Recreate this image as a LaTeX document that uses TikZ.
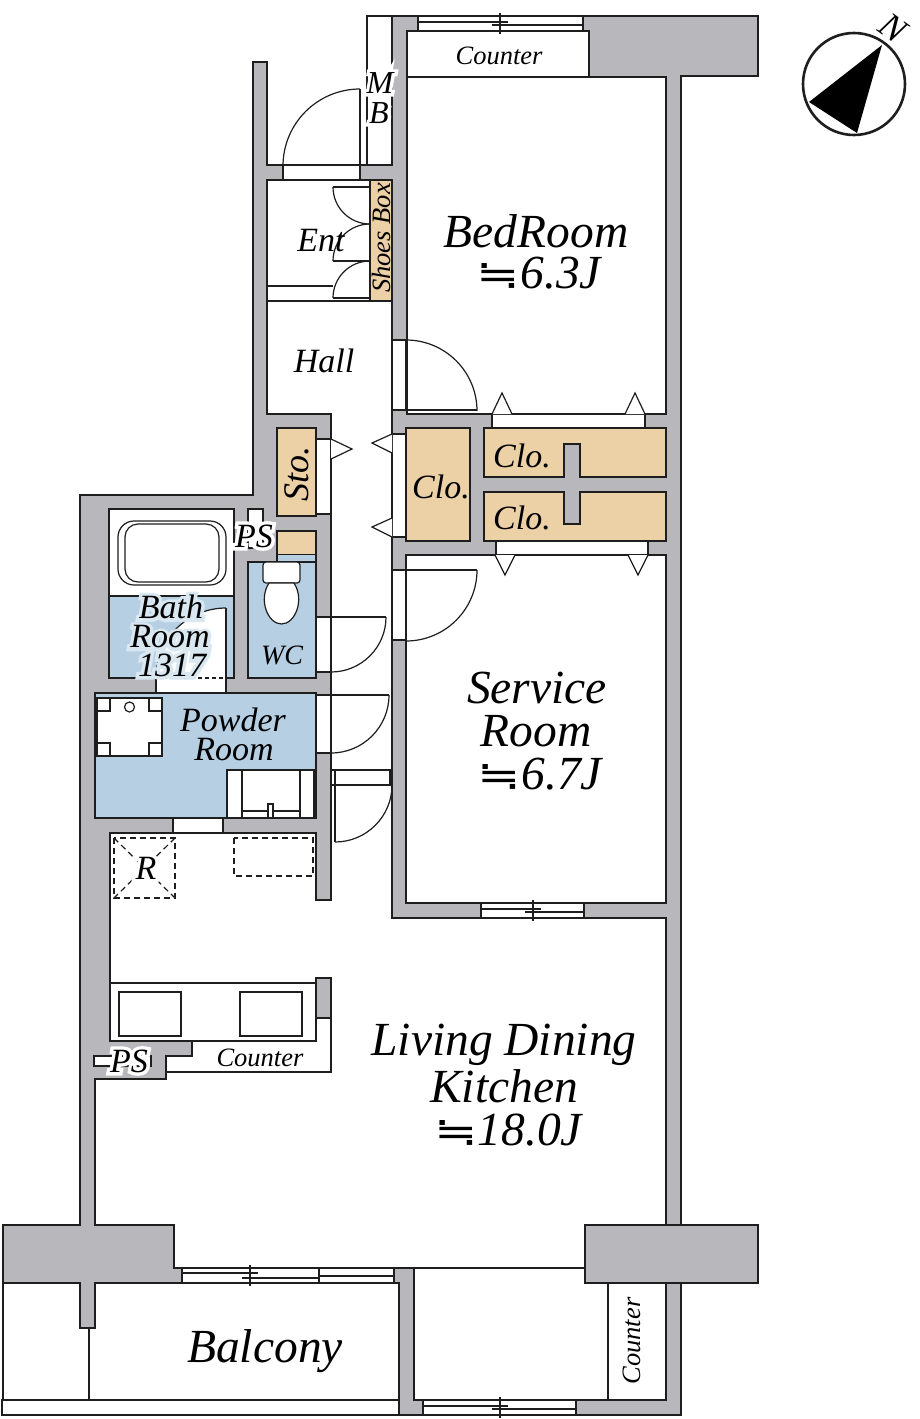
\documentclass[tikz,border=0pt]{standalone}
\usepackage{fontspec}
\setmainfont{Liberation Serif}
\newfontfamily\symfont[FakeStretch=1.3]{DejaVu Sans}
\newcommand{\approxsign}{{\symfont\fontsize{40}{40}\selectfont\char"2252}}
\newcommand{\halotxt}[2]{\rlap{\color{#1}\addfontfeature{FakeBold=20}#2}#2}
\definecolor{wallgray}{HTML}{B8B7BB}
\definecolor{tanfill}{HTML}{ECD0A6}
\definecolor{bluefill}{HTML}{B6CFE3}
\definecolor{haloblue}{HTML}{D9E7F1}
\definecolor{inkline}{HTML}{1E1E1E}
\tikzset{
  wall/.style={draw=inkline,fill=wallgray},
  room/.style={draw=inkline,fill=white},
  tanroom/.style={draw=inkline,fill=tanfill},
  blueroom/.style={draw=inkline,fill=bluefill},
  bigtxt/.style={font=\itshape\fontsize{47.5}{47.5}\selectfont,inner sep=0pt},
  midtxt/.style={font=\itshape\fontsize{34}{34}\selectfont,inner sep=0pt},
  smalltxt/.style={font=\itshape\fontsize{26.5}{26.5}\selectfont,inner sep=0pt},
}
\begin{document}
\begin{tikzpicture}[x=1pt,y=-1pt,line width=1.2pt,draw=inkline]
\useasboundingbox (0,0) rectangle (920,1419);

% walls
\draw[wall](392,16)--(758,16)--(758,76)--(681,76)--(681,1225)--(758,1225)--(758,1283)--(681,1283)
  --(681,1415)--(399,1415)--(399,1283)--(95,1283)--(95,1328)--(80,1328)--(80,1283)--(3,1283)
  --(3,1225)--(80,1225)--(80,495)--(253,495)--(253,62)--(267,62)--(267,165)--(392,165)--cycle;

% rooms
\draw[room](407,31)--(589,31)--(589,77)--(666,77)--(666,414)--(407,414)--cycle;
\draw(407,77)--(589,77);
\draw[room](406,555) rectangle (666,903);
\draw[room](267,180)--(392,180)--(392,918)--(666,918)--(666,1225)--(585,1225)--(585,1268)--(174,1268)
  --(174,1225)--(95,1225)--(95,1079)--(166,1079)--(166,1056)--(192,1056)--(192,1041)--(110,1041)
  --(110,833)--(316,833)--(316,900)--(331,900)--(331,414)--(267,414)--cycle;
\draw[room](414,1268)--(585,1268)--(585,1283)--(666,1283)--(666,1400)--(414,1400)--cycle;
\draw(608,1283)--(608,1400);
\draw[wall](585,1225) rectangle (758,1283);
\draw(367,165)--(367,16)--(392,16);

% balcony
\draw(3,1283)--(3,1400);
\draw(89,1328)--(89,1400);
\draw[room](2,1400) rectangle (399,1415);

% storage
\draw[tanroom](370,180) rectangle (392,301);
\draw(267,286)--(333,286);
\draw(267,301)--(370,301);
\draw[tanroom](277,428) rectangle (316,516);
\draw[tanroom](406,428) rectangle (470,541);
\draw[tanroom](484,428)--(666,428)--(666,477)--(580,477)--(580,444)--(564,444)--(564,477)--(484,477)--cycle;
\draw[tanroom](484,492)--(564,492)--(564,524)--(580,524)--(580,492)--(666,492)--(666,541)--(484,541)--cycle;

% bath, wc, powder
\draw[room](109,509) rectangle (234,596);
\draw[blueroom](109,596) rectangle (234,678);
\draw[room,rounded corners=16pt](118,521) rectangle (226,585);
\draw[rounded corners=13pt](125,524) rectangle (219,582);
\draw[room](248,509) rectangle (263,548);
\draw[tanroom](277,531) rectangle (316,555);
\fill[bluefill](277,555) rectangle (316,563);
\draw(277,555)--(277,562);
\draw(316,555)--(316,562);
\draw[blueroom](248,562) rectangle (316,678);
\draw[room,rounded corners=3pt](263,562) rectangle (300,583);
\draw[room](269,583)..controls (258,600) and (268,624) .. (281.5,624)..controls (295,624) and (305,600) .. (294,583)--cycle;
\fill[white](156,678)--(226,678)--(226,608) arc[start angle=90,end angle=180,radius=70pt]--cycle;
\draw(226,608) arc[start angle=90,end angle=180,radius=70pt];
\fill[white](156,677) rectangle (226,692);
\draw[dashed,dash pattern=on 4pt off 3pt](156,678)--(226,678);
\draw(226,608)--(226,693)--(156,693)--(156,678);
\draw[blueroom](95,693) rectangle (316,818);
\draw[room](97,698) rectangle (162,756);
\foreach \cx/\cy in {97/698, 149/698, 97/743, 149/743}
{
    \draw(\cx,\cy) rectangle (\cx+13,\cy+13);
}
\draw[room](129.5,707) circle(5pt);
\draw[room](227,770) rectangle (316,818);
\draw(242,770)--(242,818);
\draw(300,770)--(300,818);
\draw(314,770)--(314,818);
\draw(242,811)--(300,811);
\draw[room](268,804) rectangle (273,818);
\draw[room](173,818) rectangle (223,833);

% kitchen
\draw[dashed,dash pattern=on 6pt off 4pt](114,838) rectangle (175,898);
\draw[dashed,dash pattern=on 6pt off 4pt](114,838)--(175,898);
\draw[dashed,dash pattern=on 6pt off 4pt](175,838)--(114,898);
\draw[dashed,dash pattern=on 6pt off 4pt](234,838) rectangle (313,876);
\draw(110,983) rectangle (316,1041);
\draw(119,992) rectangle (181,1036);
\draw(240,992) rectangle (302,1036);
\draw[wall](316,978) rectangle (331,1018);
\draw(331,1018)--(331,1072)--(166,1072);
\draw[room](94,1056) rectangle (151,1066);

% openings and doors
\foreach \xa/\ya/\xb/\yb in {283/165/360/180, 392/340/406/410, 392/434/406/537, 392/570/406/640,
  316/439/331/514, 316/617/331/672, 316/695/331/753, 492/414/645/428, 496/541/648/555}
{
    \draw[room](\xa,\ya) rectangle (\xb,\yb);
}
\draw(360,89)--(360,165);
\draw(360,89) arc[start angle=90,end angle=180,radius=77pt];
\draw(392,410)--(477,410);
\draw(406,340) arc[start angle=90,end angle=0,radius=71pt];
\draw(392,570)--(477,570);
\draw(477,570) arc[start angle=0,end angle=-90,radius=71pt];
\draw(316,617)--(386,617);
\draw(386,617) arc[start angle=0,end angle=-90,radius=55pt];
\draw(316,695)--(389,695);
\draw(389,695) arc[start angle=0,end angle=-90,radius=58pt];
\draw(331,770)--(392,770);
\draw(331,785)--(392,785);
\draw(335,770)--(335,842);
\draw(390,770)--(390,785);
\draw(392,785) arc[start angle=0,end angle=-90,radius=57pt];
\draw(333,187)--(370,187);
\draw(333,187) arc[start angle=180,end angle=270,radius=37pt];
\draw(333,261)--(370,261);
\draw(370,224) arc[start angle=90,end angle=180,radius=37pt];
\draw(333,298)--(370,298);
\draw(333,298) arc[start angle=180,end angle=90,radius=37pt];

% closet markers
\foreach \x/\y in {331/439}
{
    \draw[room](\x,\y)--(\x+21,\y+10)--(\x,\y+20);
}
\foreach \x/\y in {392/434, 392/518}
{
    \draw[room](\x,\y)--(\x-20,\y+9)--(\x,\y+19);
}
\foreach \x in {492, 625}
{
    \draw[room](\x,414)--(\x+10,393)--(\x+20,414);
}
\foreach \x in {495, 628}
{
    \draw[room](\x,555)--(\x+10,575)--(\x+20,555);
}

% windows
\foreach \xa/\xb/\xm/\y in {418/583/500/16, 481/584/533/903, 423/576/500/1400}
{
    \draw[room](\xa,\y) rectangle (\xb,\y+15);
    \draw(\xa,\y+6)--(\xm+8,\y+6);
    \draw(\xm-8,\y+9)--(\xb,\y+9);
    \draw(\xm,\y-3)--(\xm,\y+18);
}
\draw[room](182,1268) rectangle (394,1283);
\draw(182,1273)--(258,1273);
\draw(242,1278)--(319,1278);
\draw(319,1268)--(319,1283);
\draw(319,1276)--(394,1276);
\draw(250,1265)--(250,1286);

% compass
\draw[line width=2.6pt](854,84) circle(51pt);
\fill[black](882,45)--(809,102)--(857,133)--cycle;
\node[rotate=-36,font=\itshape\fontsize{36}{36}\selectfont,inner sep=0pt](north) at (893,28) {N};

% labels
\node[smalltxt](counterbed) at (499,56) {Counter};
\node[midtxt,font=\itshape\fontsize{32}{32}\selectfont](mbm) at (380,83) {\halotxt{white}{M}};
\node[midtxt,font=\itshape\fontsize{32}{32}\selectfont](mbb) at (379,113) {\halotxt{white}{B}};
\node[midtxt](ent) at (321,241) {Ent};
\node[smalltxt,rotate=90](shoes) at (381,238) {Shoes Box};
\node[bigtxt](bed) at (536,231) {BedRoom};
\node[bigtxt](bedsize) at (539,273) {\approxsign6.3J};
\node[midtxt](hall) at (324,361) {Hall};
\node[midtxt,font=\itshape\fontsize{36}{36}\selectfont,rotate=90](sto) at (297,474) {Sto.};
\node[midtxt](cloa) at (441,487) {Clo.};
\node[midtxt](clob) at (522,456) {Clo.};
\node[midtxt](cloc) at (522,518) {Clo.};
\node[midtxt](psa) at (254,536) {\halotxt{white}{PS}};
\node[midtxt](batha) at (171,607) {\halotxt{haloblue}{Bath}};
\node[midtxt](bathb) at (170,637) {\halotxt{haloblue}{Room}};
\node[midtxt](bathc) at (172,665) {\halotxt{haloblue}{1317}};
\node[smalltxt,font=\itshape\fontsize{28}{28}\selectfont](wc) at (282,655) {WC};
\node[midtxt](powa) at (233,720) {Powder};
\node[midtxt](powb) at (234,750) {Room};
\node[midtxt](fridge) at (146,868) {\halotxt{white}{R}};
\node[smalltxt](counterkit) at (260,1058) {Counter};
\node[midtxt](psb) at (129,1061) {\halotxt{white}{PS}};
\node[bigtxt](serva) at (537,688) {Service};
\node[bigtxt](servb) at (536,731) {Room};
\node[bigtxt](servsize) at (540,774) {\approxsign6.7J};
\node[bigtxt](lda) at (504,1045) {Living Dining};
\node[bigtxt](ldb) at (504,1086) {Kitchen};
\node[bigtxt](ldsize) at (508,1130) {\approxsign18.0J};
\node[bigtxt](balcony) at (265,1351) {Balcony};
\node[smalltxt,rotate=90](counterpor) at (632,1341) {Counter};

    \end{tikzpicture}
\end{document}
